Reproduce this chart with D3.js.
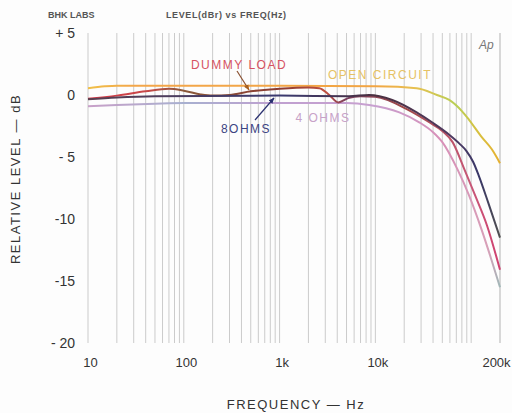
<!DOCTYPE html>
<html lang="en">
<head>
<meta charset="UTF-8">
<title>Level vs Freq</title>
<script src="https://d3js.org/d3.v7.min.js"></script>
<style>
  body { margin: 0; background: #fdfdfd; }
  svg { display: block; font-family: "Liberation Sans", Arial, sans-serif; }
</style>
</head>
<body>
<svg id="chart"></svg>
<script>
// frequency response readings [Hz, dBr]
const openCircuit = [[10,0.55],[15,0.7],[20,0.75],[100,0.75],[1000,0.75],[10000,0.7],[27000,0.55],[44000,0.0],[59000,-0.4],[80000,-1.3],[95000,-2.0],[129000,-3.4],[165000,-4.4],[200000,-5.5]];
const dummyLoad = [[10,-0.3],[20,-0.05],[40,0.3],[70,0.5],[100,0.35],[150,0.05],[200,-0.05],[300,0.0],[500,0.3],[1000,0.5],[2000,0.6],[2600,0.55],[3300,0.0],[4100,-0.6],[5200,-0.25],[7000,-0.1],[10000,-0.15],[22000,-1.2],[36500,-2.2],[50000,-2.9],[64000,-3.8],[85000,-6.0],[110000,-8.1],[146000,-10.5],[200000,-14.1]];
const eightOhms = [[10,-0.35],[20,-0.2],[50,-0.1],[1000,-0.05],[5300,-0.1],[8600,0.0],[15000,-0.4],[27000,-1.4],[39000,-2.2],[59000,-3.2],[75000,-3.9],[89000,-4.5],[105000,-5.4],[120000,-6.5],[151000,-8.7],[200000,-11.5]];
const fourOhms = [[10,-0.9],[20,-0.8],[50,-0.7],[100,-0.65],[1000,-0.65],[5000,-0.65],[8600,-0.8],[17800,-1.4],[28700,-2.2],[40000,-3.0],[50000,-3.8],[72000,-6.0],[95000,-8.1],[129000,-10.9],[160000,-13.1],[200000,-15.5]];

const xTicks = [10, 100, 1000, 10000, 200000];
const xTickLabels = ["10", "100", "1k", "10k", "200k"];
const yTicks = [5, 0, -5, -10, -15, -20];
const yTickLabels = ["+ 5", "0", "- 5", "-10", "-15", "- 20"];

const w = 512, h = 413;
const svg = d3.select("#chart").attr("width", w).attr("height", h);

const x = d3.scaleLog().domain([10, 200000]).range([88, 500]);
const y = d3.scaleLinear().domain([-20, 5]).range([343, 33]);

// log grid
const grid = [];
for (let dec = 10; dec < 200000; dec *= 10) {
  for (let k = 1; k < 10; k++) {
    const f = dec * k;
    if (f <= 200000) grid.push(f);
  }
}
grid.push(200000);
svg.append("g").selectAll("line").data(grid).enter().append("line")
  .attr("x1", d => x(d)).attr("x2", d => x(d))
  .attr("y1", y(5)).attr("y2", y(-20))
  .attr("stroke", "#cbcbcb").attr("stroke-width", 1);

// axes
const xAxis = d3.axisBottom(x).tickValues(xTicks).tickSize(0).tickPadding(0)
  .tickFormat((d, i) => xTickLabels[i]);
const gx = svg.append("g").attr("transform", "translate(0,358)").call(xAxis);
gx.select(".domain").remove();
gx.selectAll("text").attr("font-size", 13).attr("fill", "#333").attr("dy", "0.71em")
  .attr("dx", (d, i) => i === xTicks.length - 1 ? -4 : 2);

const yAxis = d3.axisLeft(y).tickValues(yTicks).tickSize(0).tickPadding(13)
  .tickFormat((d, i) => yTickLabels[i]);
const gy = svg.append("g").attr("transform", "translate(88,0)").call(yAxis);
gy.select(".domain").remove();
gy.selectAll("text").attr("font-size", 14).attr("fill", "#333");

// colour gradients along frequency
const defs = svg.append("defs");
function grad(id, stops) {
  const g = defs.append("linearGradient").attr("id", id)
    .attr("gradientUnits", "userSpaceOnUse")
    .attr("x1", x(10)).attr("x2", x(200000)).attr("y1", 0).attr("y2", 0);
  stops.forEach(s => g.append("stop")
    .attr("offset", (x(s[0]) - x(10)) / (x(200000) - x(10)))
    .attr("stop-color", s[1]));
}
grad("gOpen", [[10,"#f0c048"],[30,"#f3a64a"],[10000,"#f2a544"],[25000,"#e8c050"],[70000,"#b8cf55"],[120000,"#d8c040"],[200000,"#e6b030"]]);
grad("gDummy", [[10,"#d83848"],[40,"#c84848"],[100,"#8a5a3a"],[1000,"#8a3a30"],[3000,"#c05040"],[5000,"#7a4060"],[20000,"#a04848"],[100000,"#c85878"],[200000,"#d04070"]]);
grad("gEight", [[10,"#5a4050"],[1000,"#3a3a70"],[10000,"#4a3040"],[60000,"#503a60"],[120000,"#3a3868"],[200000,"#505050"]]);
grad("gFour", [[10,"#c8a0c8"],[100,"#a8b0d0"],[1000,"#c0a0d0"],[10000,"#c8a0d0"],[50000,"#d890b8"],[150000,"#d8a0b8"],[200000,"#a0b8b8"]]);

const line = d3.line().x(d => x(d[0])).y(d => y(d[1])).curve(d3.curveMonotoneX);
[[fourOhms, "gFour"], [openCircuit, "gOpen"], [dummyLoad, "gDummy"], [eightOhms, "gEight"]]
  .forEach(([data, g]) => {
    svg.append("path").datum(data).attr("d", line)
      .attr("fill", "none").attr("stroke", `url(#${g})`)
      .attr("stroke-width", 2).attr("stroke-linejoin", "round");
  });

// curve labels
const labels = [
  { t: "DUMMY LOAD", x: 239, y: 65, c: "#d65262" },
  { t: "OPEN CIRCUIT", x: 380, y: 75, c: "#e6c264" },
  { t: "8OHMS", x: 246, y: 129, c: "#3c4482" },
  { t: "4 OHMS", x: 323, y: 118, c: "#c8a2c8" }
];
svg.append("g").selectAll("text").data(labels).enter().append("text")
  .attr("x", d => d.x).attr("y", d => d.y).attr("dy", "0.35em")
  .attr("text-anchor", "middle").attr("font-size", 12)
  .attr("letter-spacing", "1.5px").attr("fill", d => d.c).text(d => d.t);

// arrows
defs.append("marker").attr("id", "ahD").attr("viewBox", "0 0 10 10")
  .attr("refX", 9).attr("refY", 5).attr("markerWidth", 5).attr("markerHeight", 7)
  .attr("orient", "auto").append("path").attr("d", "M0,1 L10,5 L0,9 z").attr("fill", "#a86020");
defs.append("marker").attr("id", "ahE").attr("viewBox", "0 0 10 10")
  .attr("refX", 9).attr("refY", 5).attr("markerWidth", 5).attr("markerHeight", 7)
  .attr("orient", "auto").append("path").attr("d", "M0,1 L10,5 L0,9 z").attr("fill", "#2a3070");
svg.append("line").attr("x1", 237).attr("y1", 71).attr("x2", 249).attr("y2", 90)
  .attr("stroke", "#8a5030").attr("stroke-width", 1.2).attr("marker-end", "url(#ahD)");
svg.append("line").attr("x1", 255).attr("y1", 120).attr("x2", 274).attr("y2", 98)
  .attr("stroke", "#2a3070").attr("stroke-width", 1.2).attr("marker-end", "url(#ahE)");

// headers and titles
svg.append("text").attr("x", 48).attr("y", 18).attr("font-size", 9).attr("font-weight", "bold")
  .attr("fill", "#555").text("BHK LABS");
svg.append("text").attr("x", 166).attr("y", 18).attr("font-size", 9).attr("font-weight", "bold")
  .attr("letter-spacing", "0.6px").attr("fill", "#555").text("LEVEL(dBr) vs FREQ(Hz)");
svg.append("text").attr("x", 479).attr("y", 49).attr("font-size", 12).attr("font-style", "italic")
  .attr("fill", "#777").text("Ap");
svg.append("text").attr("x", 296).attr("y", 409).attr("text-anchor", "middle")
  .attr("font-size", 13).attr("letter-spacing", "1.5px").attr("fill", "#333").text("FREQUENCY — Hz");
svg.append("text").attr("transform", "translate(20,179) rotate(-90)").attr("text-anchor", "middle")
  .attr("font-size", 13).attr("letter-spacing", "1.5px").attr("fill", "#333").text("RELATIVE LEVEL — dB");
</script>
</body>
</html>
